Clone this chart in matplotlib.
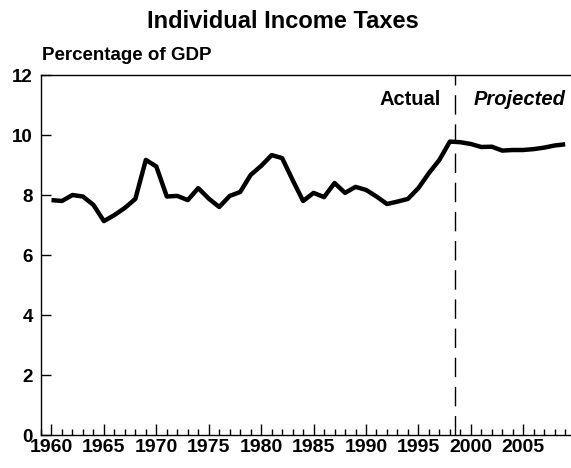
import matplotlib
matplotlib.use("Agg")
import matplotlib.pyplot as plt
from matplotlib.ticker import MultipleLocator

plt.rcParams['font.family'] = ['Liberation Sans', 'DejaVu Sans']

years = list(range(1960, 2010))
values = [7.83, 7.80, 8.00, 7.95, 7.67, 7.13, 7.33, 7.57, 7.87, 9.17,
          8.95, 7.95, 7.97, 7.83, 8.23, 7.88, 7.60, 7.97, 8.10, 8.67,
          8.97, 9.33, 9.23, 8.50, 7.80, 8.07, 7.93, 8.40, 8.07, 8.27,
          8.17, 7.95, 7.70, 7.78, 7.87, 8.23, 8.73, 9.17, 9.78, 9.76,
          9.70, 9.60, 9.61, 9.48, 9.50, 9.50, 9.53, 9.58, 9.65, 9.69]
split_year = 1998.5
year_ticks = [1960, 1965, 1970, 1975, 1980, 1985, 1990, 1995, 2000, 2005]
y_ticks = [0, 2, 4, 6, 8, 10, 12]

fig = plt.figure(figsize=(5.71, 4.68), dpi=100)
ax = fig.add_axes([41/571, 33/468, 1 - 41/571 - 0.001, (435-75)/468])

ax.plot(years, values, color='black', lw=3.2, solid_joinstyle='round', solid_capstyle='butt')
ax.axvline(split_year, color='black', lw=1.0, dashes=(14, 7))

ax.set_xlim(1959.0, 2009.5)
ax.set_ylim(0, 12)
ax.set_xticks(year_ticks)
ax.set_xticklabels([str(y) for y in year_ticks])
ax.xaxis.set_minor_locator(MultipleLocator(1))
ax.set_yticks(y_ticks)
ax.set_yticklabels([str(v) for v in y_ticks])

ax.tick_params(axis='x', which='major', direction='in', length=8, width=1, pad=3, labelsize=14)
ax.tick_params(axis='x', which='minor', direction='in', length=4, width=1)
ax.tick_params(axis='y', which='major', direction='in', length=7, width=1, pad=6, labelsize=13.5)
for lab in ax.get_xticklabels() + ax.get_yticklabels():
    lab.set_fontweight('bold')

ax.spines['right'].set_visible(False)
for s in ['left', 'bottom', 'top']:
    ax.spines[s].set_linewidth(1.0)

ax.text(split_year - 1.4, 11.17, 'Actual', ha='right', va='center', fontsize=14.5, fontweight='bold')
ax.text(split_year + 1.8, 11.17, 'Projected', ha='left', va='center', fontsize=14.5, fontweight='bold', style='italic')

fig.text(283/571, 1 - 22/468, 'Individual Income Taxes', ha='center', va='center', fontsize=17, fontweight='bold')
fig.text(42/571, 1 - 55/468, 'Percentage of GDP', ha='left', va='center', fontsize=13.5, fontweight='bold')

fig.savefig('out.png', dpi=100)
